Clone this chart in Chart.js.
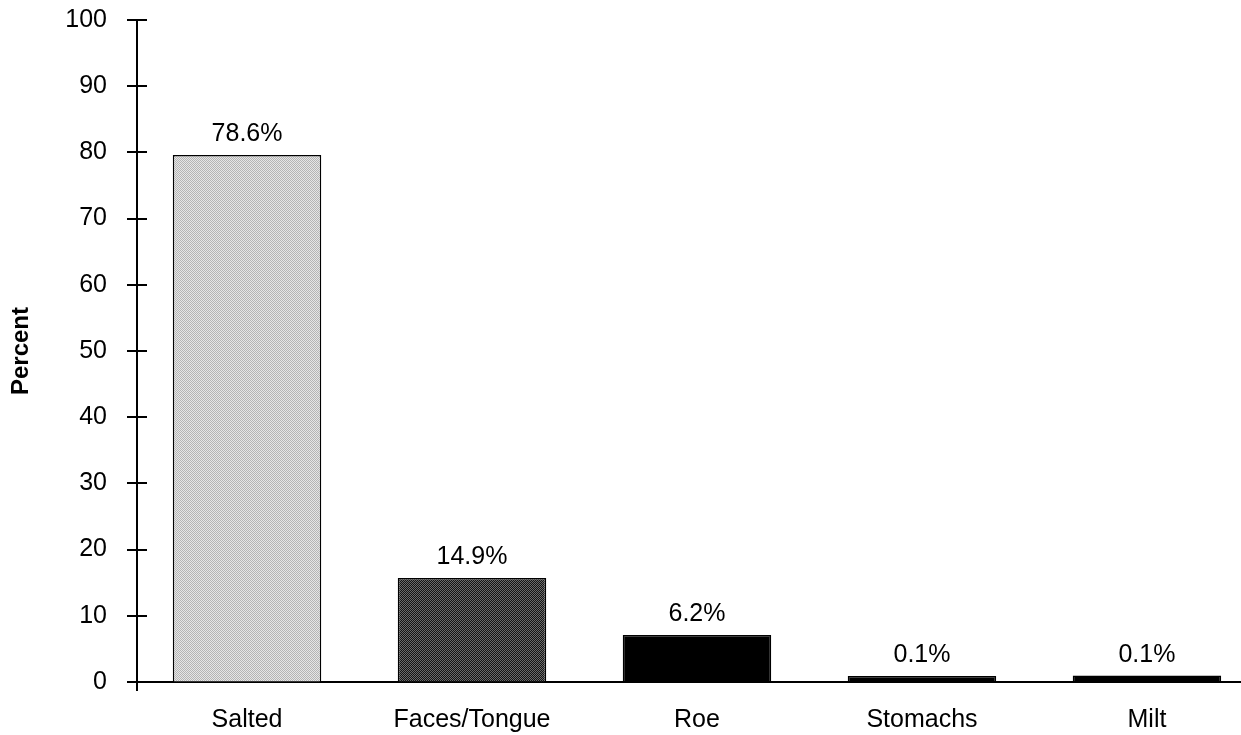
<!DOCTYPE html>
<html>
<head>
<meta charset="utf-8">
<script src="https://cdn.jsdelivr.net/npm/chart.js@4/dist/chart.umd.min.js"></script>
<style>
  html, body { margin: 0; padding: 0; background: #fff; }
  #wrap { width: 1241px; height: 735px; position: relative; }
</style>
</head>
<body>
<div id="wrap"><canvas id="chart"></canvas></div>
<script>
const categories = ['Salted', 'Faces/Tongue', 'Roe', 'Stomachs', 'Milt'];
// bar heights as drawn in the picture (percent)
const barHeights = [79.6, 15.7, 7.1, 0.9, 1.0];
// the printed labels above each bar
const barLabels = ['78.6%', '14.9%', '6.2%', '0.1%', '0.1%'];
const yTicks = [0, 10, 20, 30, 40, 50, 60, 70, 80, 90, 100];

const FONT = '"Liberation Sans", Arial, Helvetica, sans-serif';

function stipple(a, b) {
  const c = document.createElement('canvas');
  c.width = 2; c.height = 2;
  const g = c.getContext('2d');
  g.fillStyle = a; g.fillRect(0, 0, 2, 2);
  g.fillStyle = b; g.fillRect(0, 0, 1, 1); g.fillRect(1, 1, 1, 1);
  return g.createPattern(c, 'repeat');
}

const fills = [
  stipple('#e6e6e6', '#b4b4b4'),
  stipple('#141414', '#6a6a6a'),
  '#000', '#000', '#000',
];

// y ticks cross the axis on both sides, and the axis runs a bit below zero
const crossTicks = {
  id: 'crossTicks',
  afterDraw(chart) {
    const { ctx, scales: { x, y } } = chart;
    ctx.save();
    ctx.strokeStyle = '#000';
    ctx.lineWidth = 2;
    y.ticks.forEach(t => {
      const py = Math.round(y.getPixelForValue(t.value));
      ctx.beginPath();
      ctx.moveTo(x.left - 10, py);
      ctx.lineTo(x.left + 10, py);
      ctx.stroke();
    });
    ctx.beginPath();
    ctx.moveTo(x.left, y.bottom);
    ctx.lineTo(x.left, y.bottom + 9);
    ctx.stroke();
    ctx.restore();
  }
};

const barText = {
  id: 'barText',
  afterDatasetsDraw(chart) {
    const { ctx } = chart;
    const meta = chart.getDatasetMeta(0);
    ctx.save();
    ctx.fillStyle = '#000';
    ctx.font = '25px ' + FONT;
    ctx.textAlign = 'center';
    ctx.textBaseline = 'bottom';
    meta.data.forEach((bar, i) => {
      ctx.fillText(barLabels[i], bar.x, bar.y - 8);
    });
    ctx.restore();
  }
};

new Chart(document.getElementById('chart'), {
  type: 'bar',
  data: {
    datasets: [{
      data: barHeights.map((v, i) => ({ x: i, y: v })),
      backgroundColor: fills,
      borderColor: '#000',
      borderWidth: 1.5,
      borderSkipped: 'bottom',
      categoryPercentage: 1,
      barPercentage: 0.66,
    }],
  },
  options: {
    responsive: true,
    maintainAspectRatio: false,
    animation: false,
    layout: { padding: { top: 0, right: 0, bottom: 3, left: 0 } },
    plugins: { legend: { display: false }, tooltip: { enabled: false } },
    scales: {
      x: {
        type: 'linear',
        offset: false,
        min: -0.489,
        max: 4.418,
        afterFit: s => { s.height = 50; },
        grid: { display: false, drawTicks: false },
        border: { display: true, color: '#000', width: 2 },
        ticks: {
          stepSize: 1,
          includeBounds: false,
          autoSkip: false,
          maxRotation: 0,
          padding: 23,
          color: '#000',
          font: { family: FONT, size: 25 },
          callback: v => categories[v] ?? '',
        },
      },
      y: {
        min: 0,
        max: 100,
        afterFit: s => { s.width = 137; },
        afterBuildTicks: s => { s.ticks = yTicks.map(v => ({ value: v })); },
        grid: { drawOnChartArea: false, drawTicks: true, tickLength: 25, tickColor: 'rgba(0,0,0,0)' },
        border: { display: true, color: '#000', width: 2 },
        ticks: {
          padding: 5,
          color: '#000',
          font: { family: FONT, size: 25 },
        },
        title: {
          display: true,
          text: 'Percent',
          color: '#000',
          padding: { top: 7, bottom: 0 },
          font: { family: FONT, size: 24, weight: 'bold' },
        },
      },
    },
  },
  plugins: [crossTicks, barText],
});
</script>
</body>
</html>
